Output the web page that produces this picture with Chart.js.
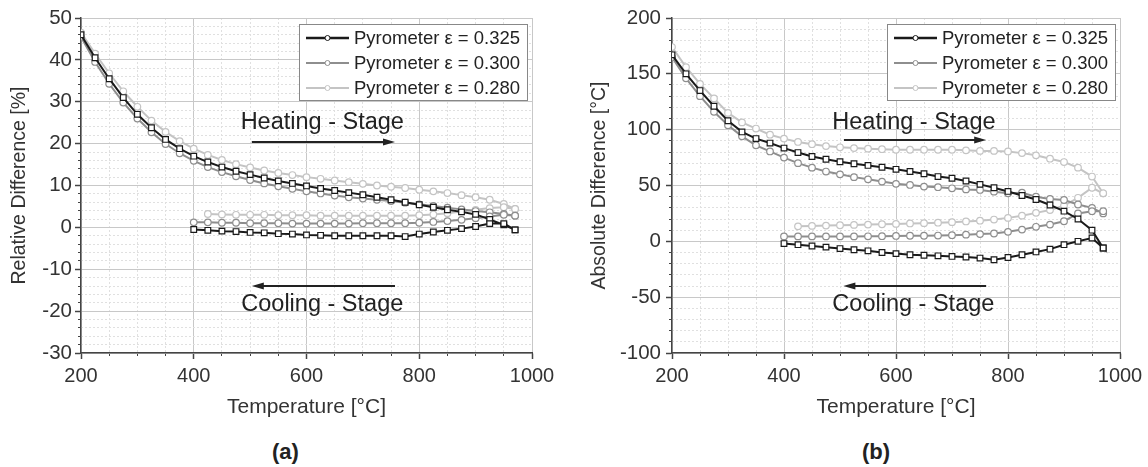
<!DOCTYPE html>
<html>
<head>
<meta charset="utf-8">
<script src="https://cdn.jsdelivr.net/npm/chart.js@4.4.0/dist/chart.umd.min.js"></script>
<style>
  body { margin: 0; background: #fff; width: 1148px; height: 467px; position: relative; overflow: hidden;
         font-family: "Liberation Sans", Arial, sans-serif; }
  .panel { position: absolute; top: 0; width: 574px; height: 430px; }
  .tag { position: absolute; top: 440px; line-height: 24px; font-weight: bold; font-size: 22px; color: #222; }
</style>
</head>
<body>
<div class="panel" style="left:0"><canvas id="chartA" width="574" height="430"></canvas></div>
<div class="panel" style="left:574px"><canvas id="chartB" width="574" height="430"></canvas></div>
<div class="tag" style="left:272px">(a)</div>
<div class="tag" style="left:862px">(b)</div>
<script>
// temperatures read along the heating run and back down the cooling run
const heatT = [200,225,250,275,300,325,350,375,400,425,450,475,500,525,550,575,600,625,650,675,700,725,750,775,800,825,850,875,900,925,950,970];
const coolT = [970,950,925,900,875,850,825,800,775,750,725,700,675,650,625,600,575,550,525,500,475,450,425,400];

const labels = ['Pyrometer \u03b5 = 0.325', 'Pyrometer \u03b5 = 0.300', 'Pyrometer \u03b5 = 0.280'];

// (a) relative difference [%]
const relHeat325 = [46.0,40.5,35.5,31.0,27.0,23.8,21.0,18.8,17.0,15.6,14.4,13.4,12.6,11.8,11.1,10.5,9.9,9.3,8.8,8.3,7.8,7.2,6.6,6.0,5.4,4.8,4.2,3.7,3.1,1.9,0.6,-0.6];
const relHeat300 = [45.5,39.5,34.3,29.8,26.0,22.7,19.9,17.7,15.9,14.4,13.2,12.2,11.3,10.5,9.8,9.2,8.6,8.1,7.6,7.2,6.9,6.6,6.3,5.9,5.5,5.1,4.7,4.3,3.9,3.6,3.2,2.8];
const relHeat280 = [46.5,41.5,36.8,32.5,28.8,25.5,22.8,20.6,18.8,17.3,16.1,15.1,14.3,13.6,13.0,12.5,12.0,11.6,11.2,10.8,10.4,10.0,9.7,9.4,9.0,8.6,8.2,7.7,7.2,6.6,5.6,4.4];
const relCool325 = [-0.6,0.9,0.9,0.2,-0.3,-0.7,-1.1,-1.6,-2.2,-2.0,-2.0,-2.0,-2.0,-2.0,-1.9,-1.8,-1.6,-1.5,-1.3,-1.2,-1.0,-0.9,-0.7,-0.5];
const relCool300 = [2.8,3.0,2.6,2.2,1.8,1.5,1.3,1.1,1.0,1.0,1.0,1.0,0.9,0.9,0.9,0.9,0.9,1.0,1.0,1.0,1.1,1.1,1.2,1.2];
const relCool280 = [4.4,4.8,4.6,4.2,3.8,3.4,3.1,2.9,2.8,2.8,2.8,2.8,2.8,2.8,2.8,2.9,2.9,2.9,3.0,3.0,3.0,3.1,3.2,null];

// (b) absolute difference [°C]
const absHeat325 = [167,150,135,121,108,98,92,88,83.5,79.5,76,73.5,71.3,69.5,68,66.3,64.5,62.5,60.5,58,56.5,54,51,48,44.7,41,37.5,32.5,27,20,10,-6];
const absHeat300 = [165,146,130,116,104,94,86,80.5,75,70,66,62.5,60,57.5,55.5,53.5,51.5,50.5,49,48.5,47.5,46.5,46,44.5,43,43.5,40,38,37,33,30,25];
const absHeat280 = [174,156,141,128,115,106.5,101,95.5,92,89,87,85.3,84.2,83.5,83,82.5,82,82,82,82,82,81.5,81,81,80.5,79,77,74,71,66,58,43];
const absCool325 = [-6,3,0,-3,-7,-9.5,-12,-14.5,-16.5,-15,-14,-13.5,-13,-12.5,-12,-11,-10,-8.5,-7.5,-6.5,-5.2,-4.2,-3,-2];
const absCool300 = [27,27,25,18,15,13,10.5,8.5,7,6.5,6,5.5,5.2,5,5,4.8,4.6,4.5,4.4,4.4,4.4,4.4,4.4,4.4];
const absCool280 = [43,48,39,32,28,25.5,23,21,19.5,18.5,17.8,17.2,16.7,16.3,16,15.6,15.3,15,14.7,14.4,14.1,13.8,13.4,null];

const colors = ['#1a1a1a', '#8e8e8e', '#c4c4c4'];
const markers = ['rect', 'circle', 'circle'];

Chart.defaults.font.family = '"Liberation Sans", Arial, sans-serif';
Chart.defaults.color = '#333';

function loop(heat, cool) {
  return heatT.map((t, i) => ({ x: t, y: heat[i] }))
    .concat(coolT.map((t, i) => ({ x: t, y: cool[i] })));
}

function series(heats, cools) {
  return heats.map((h, i) => ({
    label: labels[i],
    data: loop(h, cools[i]),
    showLine: true,
    borderColor: colors[i],
    borderWidth: 2,
    pointStyle: markers[i],
    pointRadius: i === 0 ? 4 : 3.3,
    pointBorderWidth: 1.2,
    pointBorderColor: colors[i],
    pointBackgroundColor: '#fff'
  }));
}

const insideLegend = {
  id: 'insideLegend',
  afterDraw(chart) {
    const { ctx, chartArea } = chart;
    const w = 228, h = 76;
    const left = Math.round(chartArea.right - w - 5), top = Math.round(chartArea.top + 6);
    ctx.save();
    ctx.fillStyle = '#fff';
    ctx.fillRect(left, top, w, h);
    ctx.strokeStyle = '#888';
    ctx.lineWidth = 1;
    ctx.strokeRect(left + 0.5, top + 0.5, w, h);
    ctx.font = '18.5px "Liberation Sans", Arial, sans-serif';
    ctx.textBaseline = 'middle';
    chart.data.datasets.forEach((ds, i) => {
      const y = top + 14 + i * 25;
      ctx.strokeStyle = ds.borderColor;
      ctx.lineWidth = i === 0 ? 2.5 : 2;
      ctx.beginPath(); ctx.moveTo(left + 7, y); ctx.lineTo(left + 50, y); ctx.stroke();
      ctx.beginPath(); ctx.arc(left + 28.5, y, 2.5, 0, Math.PI * 2);
      ctx.fillStyle = '#fff'; ctx.fill(); ctx.lineWidth = 1; ctx.stroke();
      ctx.fillStyle = '#222';
      ctx.fillText(ds.label, left + 55, y + 1);
    });
    ctx.restore();
  }
};

function stageNotes(notes) {
  return {
    id: 'stageNotes',
    afterDraw(chart) {
      const { ctx, scales: { x, y } } = chart;
      ctx.save();
      ctx.font = '23.5px "Liberation Sans", Arial, sans-serif';
      ctx.fillStyle = '#222';
      ctx.strokeStyle = '#222';
      ctx.textAlign = 'center';
      ctx.textBaseline = 'middle';
      notes.forEach(n => {
        ctx.fillText(n.text, x.getPixelForValue(n.tx), y.getPixelForValue(n.ty));
        const x0 = x.getPixelForValue(n.from), x1 = x.getPixelForValue(n.to);
        const ay = Math.round(y.getPixelForValue(n.ay));
        const dir = Math.sign(x1 - x0);
        ctx.lineWidth = 2;
        ctx.beginPath(); ctx.moveTo(x0, ay); ctx.lineTo(x1 - dir * 10, ay); ctx.stroke();
        ctx.beginPath(); ctx.moveTo(x1, ay); ctx.lineTo(x1 - dir * 12, ay - 3.5); ctx.lineTo(x1 - dir * 12, ay + 3.5);
        ctx.closePath(); ctx.fill();
      });
      ctx.restore();
    }
  };
}

function scales(y) {
  return {
    x: {
      type: 'linear', position: 'bottom', min: 200, max: 1000,
      ticks: { stepSize: 200, font: { size: 20 }, padding: 5, maxRotation: 0, autoSkip: false,
               callback: v => String(v) },
      grid: { color: '#c8c8c8', tickColor: '#444', tickLength: 6, tickWidth: 1.5 },
      border: { color: '#444', width: 1.5 },
      title: { display: true, text: 'Temperature [\u00b0C]', font: { size: 21 }, padding: { top: 0, bottom: 10 } },
      afterFit: s => { s.height = 77; }
    },
    xMinor: {
      type: 'linear', position: 'bottom', weight: -1, min: 200, max: 1000,
      ticks: { stepSize: 50, display: false },
      grid: { color: c => c.tick.value % 200 === 0 ? 'rgba(0,0,0,0)' : '#e0e0e0', tickColor: '#444', tickLength: 3 },
      border: { display: false, dash: [2, 2] },
      afterFit: s => { s.height = 0; }
    },
    y: {
      type: 'linear', position: 'left', min: y.min, max: y.max,
      ticks: { stepSize: y.step, font: { size: 20.5 }, padding: y.tickPad, autoSkip: false },
      grid: { color: '#c8c8c8', tickColor: '#444', tickLength: 6, tickWidth: 1.5 },
      border: { color: '#444', width: 1.5 },
      title: { display: true, text: y.title, font: { size: 19.5 }, padding: { top: y.titlePad, bottom: 0 } },
      afterFit: s => { s.width = y.width; }
    },
    yMinor: {
      type: 'linear', position: 'left', weight: -1, min: y.min, max: y.max,
      ticks: { stepSize: y.minor, display: false },
      grid: { color: c => c.tick.value % y.step === 0 ? 'rgba(0,0,0,0)' : '#e0e0e0', tickColor: '#444', tickLength: 3 },
      border: { display: false, dash: [2, 2] },
      afterFit: s => { s.width = 0; }
    }
  };
}

function makeChart(id, datasets, y, padRight, notes) {
  new Chart(document.getElementById(id), {
    type: 'scatter',
    data: { datasets: datasets },
    options: {
      responsive: false,
      animation: false,
      layout: { padding: { top: 18, right: padRight, bottom: 0, left: 0 } },
      plugins: { legend: { display: false }, tooltip: { enabled: false } },
      scales: scales(y)
    },
    plugins: [insideLegend, stageNotes(notes)]
  });
}

makeChart('chartA',
  series([relHeat325, relHeat300, relHeat280], [relCool325, relCool300, relCool280]),
  { min: -30, max: 50, step: 10, minor: 2, title: 'Relative Difference [%]', titlePad: 8, tickPad: 3, width: 81 },
  42,
  [
    { text: 'Heating - Stage', tx: 628, ty: 25, from: 503, to: 757, ay: 20.5 },
    { text: 'Cooling - Stage', tx: 628, ty: -18.4, from: 757, to: 503, ay: -14.1 }
  ]);

makeChart('chartB',
  series([absHeat325, absHeat300, absHeat280], [absCool325, absCool300, absCool280]),
  { min: -100, max: 200, step: 50, minor: 10, title: 'Absolute Difference [\u00b0C]', titlePad: 14, tickPad: 5, width: 98 },
  28,
  [
    { text: 'Heating - Stage', tx: 632, ty: 106, from: 507, to: 761, ay: 90.4 },
    { text: 'Cooling - Stage', tx: 631, ty: -56.7, from: 761, to: 506, ay: -40.3 }
  ]);
</script>
</body>
</html>
